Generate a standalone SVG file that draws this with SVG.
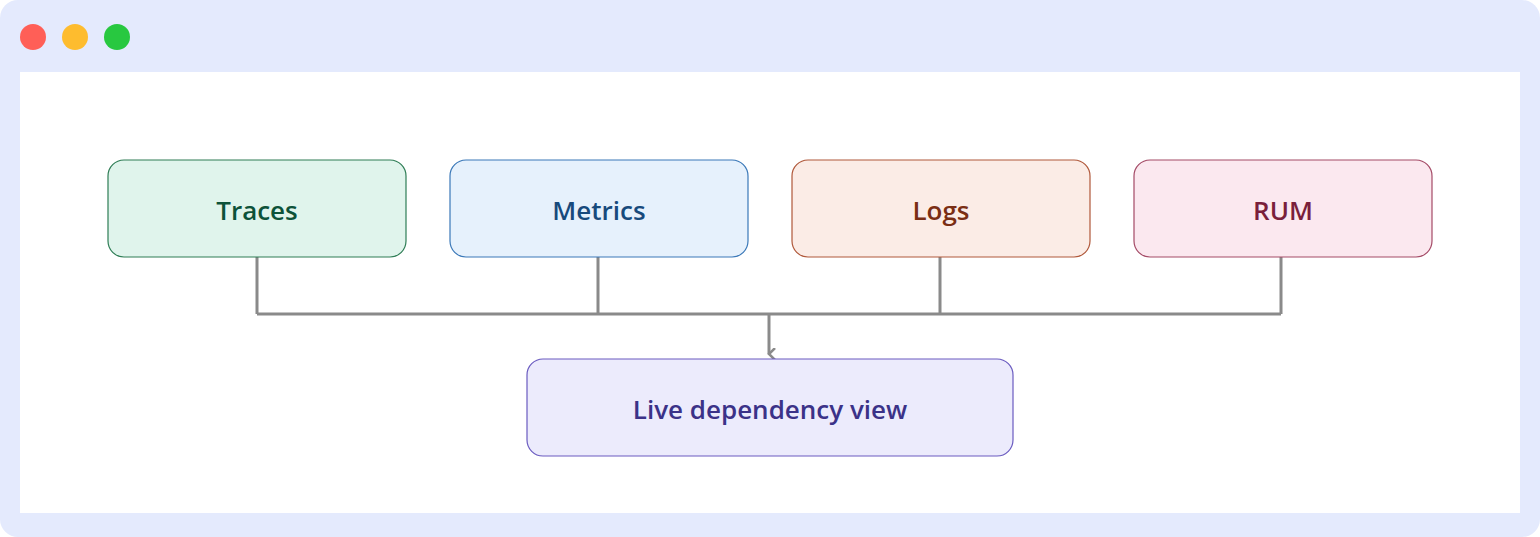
<svg xmlns="http://www.w3.org/2000/svg" width="1540" height="537" viewBox="0 0 1540 537">
<style>
.lbl{font-family:"Open Sans","Noto Sans",sans-serif;font-weight:600;font-size:26px;text-anchor:middle;dominant-baseline:central}
.box{stroke-width:1.2}
.conn{fill:none;stroke:#8a8a8a;stroke-width:3}
</style>
<defs>
<marker id="arr" viewBox="0 0 12 12" refX="6" refY="10" markerWidth="12" markerHeight="12" markerUnits="userSpaceOnUse" orient="auto-start-reverse">
<path d="M0,4 L6,10 L12,4" fill="none" stroke="#8a8a8a" stroke-width="2.5"/>
</marker>
</defs>
<rect x="0" y="0" width="1540" height="537" rx="18" fill="#e4eafd"/>
<circle cx="33" cy="37" r="13" fill="#ff5f57"/>
<circle cx="75" cy="37" r="13" fill="#febc2e"/>
<circle cx="117" cy="37" r="13" fill="#28c840"/>
<rect x="20" y="72" width="1500" height="441" fill="#ffffff"/>
<g id="connectors">
<path class="conn" d="M257,257 V314 M598,257 V314 M940,257 V314 M1281,257 V314 M257,314 H1281"/>
<path class="conn" d="M769,314 V354" marker-end="url(#arr)"/>
</g>
<g id="traces"><rect class="box" x="108" y="160" width="298" height="97" rx="16" fill="#e0f4ec" stroke="#2e7d55"/><text class="lbl" x="257" y="210" fill="#0d5239">Traces</text></g>
<g id="metrics"><rect class="box" x="450" y="160" width="298" height="97" rx="16" fill="#e6f1fc" stroke="#3a78b8"/><text class="lbl" x="599" y="210" fill="#174a7c">Metrics</text></g>
<g id="logs"><rect class="box" x="792" y="160" width="298" height="97" rx="16" fill="#fbece6" stroke="#b0583a"/><text class="lbl" x="941" y="210" fill="#7a2e14">Logs</text></g>
<g id="rum"><rect class="box" x="1134" y="160" width="298" height="97" rx="16" fill="#fbe8ef" stroke="#a44a66"/><text class="lbl" x="1283" y="210" fill="#7a1f3b">RUM</text></g>
<g id="live"><rect class="box" x="527" y="359" width="486" height="97" rx="16" fill="#ecebfc" stroke="#6a5bc0"/><text class="lbl" x="770" y="409" fill="#3b3288">Live dependency view</text></g>
</svg>
